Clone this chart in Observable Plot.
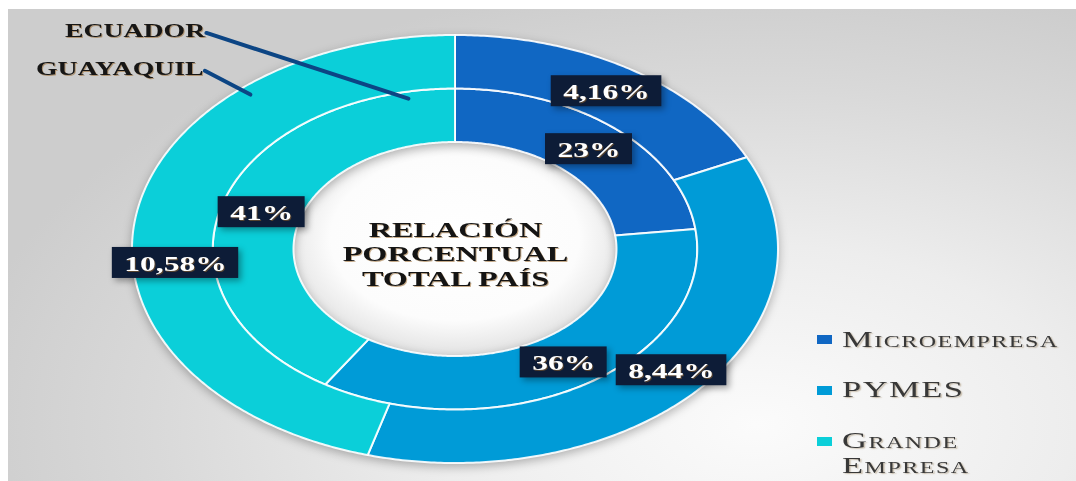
<!DOCTYPE html>
<html>
<head>
<meta charset="utf-8">
<script src="https://cdn.jsdelivr.net/npm/d3@7"></script>
<script src="https://cdn.jsdelivr.net/npm/@observablehq/plot@0.6"></script>
<style>
html, body { margin: 0; padding: 0; background: #fff; }
#wrap { position: relative; width: 1076px; height: 481px; overflow: hidden; background: #fff; }
#panel { position: absolute; left: 8px; top: 9px; right: 0; bottom: 0;
  background: radial-gradient(ellipse 75% 95% at 70% 88%, #fbfbfb 0%, #ededed 40%, #d9d9d9 75%, #cdcdcd 100%); }
#chart { position: absolute; left: 0; top: 0; }
.leg { position: absolute; left: 842px; font-family: "Liberation Serif", serif; font-size: 23px; line-height: 23px;
  color: #383838; font-variant: small-caps; letter-spacing: 1px; transform: scaleX(1.5); transform-origin: 0 0;
  text-shadow: 1px 1px 1px rgba(120,90,40,0.35); white-space: nowrap; }
.sw { position: absolute; left: 817px; width: 15px; height: 9px; }
</style>
</head>
<body>
<div id="wrap">
  <div id="panel"></div>
  <svg width="0" height="0" style="position:absolute">
    <defs>
      <radialGradient id="holeGrad" cx="50%" cy="45%" r="55%">
        <stop offset="0%" stop-color="#ffffff"/>
        <stop offset="70%" stop-color="#fcfcfc"/>
        <stop offset="100%" stop-color="#e2e2e2"/>
      </radialGradient>
    </defs>
  </svg>
  <div id="chart"></div>
  <div id="legend"></div>
</div>
<script>
// ---- data ----
const categories = ["Microempresa", "PYMES", "Grande Empresa"];
const colors = ["#1067c3", "#009bd7", "#0bcfd9"];
const ecuadorValues = [23, 36, 41];
const ecuadorLabels = ["23%", "36%", "41%"];
const guayaquilValues = [4.16, 8.44, 10.58];
const guayaquilLabels = ["4,16%", "8,44%", "10,58%"];
const ringNames = ["ECUADOR", "GUAYAQUIL"];
const centerTitle = ["RELACIÓN", "PORCENTUAL", "TOTAL PAÍS"];

// ---- geometry ----
const X0 = 132, X1 = 778, Y0 = 463, Y1 = 35;       // pixel range of the ellipse bounding box
const pxX = (X1 - X0) / 2, pxY = (Y0 - Y1) / 2;     // pixels per data unit
const rings = [
  {name: ringNames[0], values: ecuadorValues, labels: ecuadorLabels, r0: 0.5, r1: 0.75},
  {name: ringNames[1], values: guayaquilValues, labels: guayaquilLabels, r0: 0.75, r1: 1.0}
];
const pie = d3.pie().sort(null).value(d => d);

const pts = [];
const labels = [];
const canvas = document.createElement("canvas");
const ctx = canvas.getContext("2d");
ctx.font = "bold 21px 'Liberation Serif'";
rings.forEach(ring => {
  pie(ring.values).forEach((a, i) => {
    const n = Math.max(2, Math.ceil((a.endAngle - a.startAngle) / 0.01));
    for (let k = 0; k <= n; k++) {
      const t = a.startAngle + (a.endAngle - a.startAngle) * k / n;
      pts.push({key: ring.name + i, cat: categories[i],
        xi: ring.r0 * Math.sin(t), yi: ring.r0 * Math.cos(t),
        xo: ring.r1 * Math.sin(t), yo: ring.r1 * Math.cos(t)});
    }
    const m = (a.startAngle + a.endAngle) / 2, r = (ring.r0 + ring.r1) / 2;
    const shift = (ring.name === "GUAYAQUIL" && i === 2) ? 39 : 0; // label dragged down in original
    const w = ctx.measureText(ring.labels[i]).width * 1.5 + 24;
    labels.push({text: ring.labels[i], x: r * Math.sin(m), y: r * Math.cos(m) - shift / pxY,
      hw: (w / 2) / pxX, hh: 15.5 / pxY});
  });
});
const hole = d3.range(0, 2 * Math.PI + 0.02, 0.02).map(t => ({x2: 0.5 * Math.sin(t), y2: 0.5 * Math.cos(t)}));

const leaders = [
  {name: ringNames[0], tx: -0.775, ty: 1.022, ex: 0.72 * Math.sin(-0.204), ey: 0.72 * Math.cos(-0.204)},
  {name: ringNames[1], tx: -0.78, ty: 0.845, ex: 0.963 * Math.sin(-0.72), ey: 0.963 * Math.cos(-0.72)}
];

const chart = Plot.plot({
  width: 1076, height: 481,
  margin: 0,
  x: {domain: [-1, 1], range: [X0, X1], axis: null},
  y: {domain: [-1, 1], range: [Y0, Y1], axis: null},
  color: {domain: categories, range: colors},
  style: {background: "transparent", overflow: "visible"},
  marks: [
    Plot.area(hole, {x1: () => 0, y1: () => 0, x2: "x2", y2: "y2", fill: "url(#holeGrad)"}),
    Plot.area(pts, {x1: "xi", y1: "yi", x2: "xo", y2: "yo", z: "key", fill: "cat", stroke: "white", strokeWidth: 2, strokeOpacity: 0.9}),
    Plot.link(leaders, {x1: d => d.tx + 0.004, y1: d => d.ty - 0.01, x2: "ex", y2: "ey", stroke: "#0c4584", strokeWidth: 4, strokeLinecap: "round"}),
    Plot.text(leaders, {x: "tx", y: "ty", text: "name", textAnchor: "end", fill: "#161616",
      fontFamily: "Liberation Serif", fontWeight: "bold", fontSize: 18.5}),
    Plot.rect(labels, {x1: d => d.x - d.hw, x2: d => d.x + d.hw, y1: d => d.y - d.hh, y2: d => d.y + d.hh, fill: "#0d1c37"}),
    Plot.text(labels, {x: "x", y: "y", text: "text", fill: "white", dy: 1,
      fontFamily: "Liberation Serif", fontWeight: "bold", fontSize: 21}),
    Plot.text([centerTitle.join("\n")], {x: () => 0, y: () => 0, text: d => d, fill: "#141414", dy: 4,
      lineHeight: 1.15, fontFamily: "Liberation Serif", fontWeight: "bold", fontSize: 21.5})
  ]
});
document.getElementById("chart").appendChild(chart);

// horizontal stretch of the original picture (text drawn 1.5x wide)
d3.select(chart).selectAll("g[aria-label='text'] > text").each(function () {
  let t = this.getAttribute("transform");
  if (!t) {
    const x = +this.getAttribute("x") || 0, y = +this.getAttribute("y") || 0;
    this.removeAttribute("x"); this.removeAttribute("y");
    t = `translate(${x},${y})`;
  }
  this.setAttribute("transform", t + " scale(1.5,1)");
});
const areas = chart.querySelectorAll("g[aria-label='area']");
if (areas[0]) areas[0].style.filter = "drop-shadow(0 0 6px rgba(0,0,0,0.18))";
if (areas[1]) areas[1].style.filter = "drop-shadow(0 3px 5px rgba(0,0,0,0.28))";
const rects = chart.querySelectorAll("g[aria-label='rect']");
if (rects[0]) rects[0].style.filter = "drop-shadow(3px 3px 3px rgba(0,0,0,0.35))";
const texts = chart.querySelectorAll("g[aria-label='text']");
texts.forEach(g => g.style.filter = "drop-shadow(1px 1px 0.6px rgba(150,100,40,0.55))");

// legend
const legTop = [[328, 335], [378, 386], [429, 437]];
const leg = document.getElementById("legend");
categories.forEach((c, i) => {
  const sw = document.createElement("div");
  sw.className = "sw"; sw.style.top = legTop[i][1] + "px"; sw.style.background = colors[i];
  leg.appendChild(sw);
  const words = c.split(" ");
  words.forEach((w, j) => {
    const t = document.createElement("div");
    t.className = "leg"; t.style.top = (legTop[i][0] + j * 25) + "px";
    t.textContent = w;
    leg.appendChild(t);
  });
});
</script>
</body>
</html>
